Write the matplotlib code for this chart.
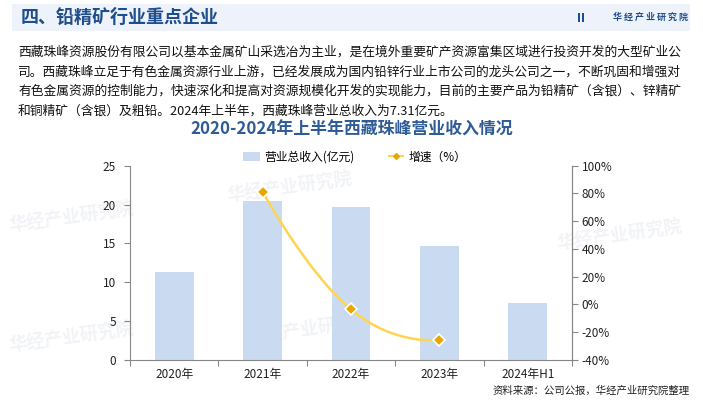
import numpy as np
import matplotlib.pyplot as plt
from matplotlib.patches import Rectangle, Patch
from matplotlib.lines import Line2D
from matplotlib.path import Path
from matplotlib.patches import PathPatch

plt.rcParams['font.family'] = ['Noto Sans CJK SC', 'DejaVu Sans']

# data
years = ['2020年', '2021年', '2022年', '2023年', '2024年H1']
revenue = [11.30, 20.47, 19.73, 14.72, 7.31]      # 亿元
growth_years = [1, 2, 3]                            # index into years
growth = [81.2, -3.6, -25.4]                        # %

para = [
    '西藏珠峰资源股份有限公司以基本金属矿山采选冶为主业，是在境外重要矿产资源富集区域进行投资开发的大型矿业公',
    '司。西藏珠峰立足于有色金属资源行业上游，已经发展成为国内铅锌行业上市公司的龙头公司之一，不断巩固和增强对',
    '有色金属资源的控制能力，快速深化和提高对资源规模化开发的实现能力，目前的主要产品为铅精矿（含银）、锌精矿',
    '和铜精矿（含银）及粗铅。2024年上半年，西藏珠峰营业总收入为7.31亿元。',
]

W, H = 703, 401
fig = plt.figure(figsize=(W / 100, H / 100), dpi=100)
fig.patch.set_facecolor('white')

def fx(px):
    return px / W

def fy(py):
    return 1 - py / H

# faint watermarks (behind everything)
for (x, y) in [(72, 218), (290, 188), (72, 338), (310, 330), (620, 236)]:
    fig.text(fx(x), fy(y), '华经产业研究院', fontsize=13, color='#F1F3F7', fontweight='bold',
             rotation=8, ha='center', va='center', zorder=-5)

# header band
fig.patches.append(Rectangle((fx(12), fy(31)), fx(678), 27 / H, transform=fig.transFigure,
                             facecolor='#EEF3FB', edgecolor='none', zorder=-4))
fig.text(fx(21), fy(17.5), '四、铅精矿行业重点企业', fontsize=13, fontweight='bold',
         color='#1F4E8C', ha='left', va='center')
fig.patches.append(Rectangle((fx(578), fy(22)), fx(2), 9 / H, transform=fig.transFigure,
                             facecolor='#1F4E8C', edgecolor='none'))
fig.patches.append(Rectangle((fx(581.5), fy(22)), fx(2), 9 / H, transform=fig.transFigure,
                             facecolor='#1F4E8C', edgecolor='none'))
fig.text(fx(688), fy(17.5), '华 经 产 业 研 究 院', fontsize=6.5, fontweight='bold',
         color='#1F4E8C', ha='right', va='center')

# paragraph
for i, line in enumerate(para):
    fig.text(fx(18), fy(52 + i * 19.7), line, fontsize=9.2, color='#111111',
             ha='left', va='center')

# chart title
fig.text(0.5, fy(130), '2020-2024年上半年西藏珠峰营业收入情况', fontsize=12.2,
         fontweight='bold', color='#2F5C97', ha='center', va='center')

ax = fig.add_axes([fx(130), fy(360), fx(442), (360 - 165.7) / H])
x = np.arange(len(years))
ax.bar(x, revenue, width=0.44, color='#C9DAF1', zorder=2)
ax.set_xlim(-0.5, len(years) - 0.5)
ax.set_ylim(0, 25)
ax.set_yticks(np.arange(0, 26, 5))
ax.set_xticks(np.arange(-0.5, len(years), 1))
ax.set_xticklabels([])
ax.set_xticks(x, minor=True)
ax.set_xticklabels(years, minor=True)
ax.tick_params(axis='x', which='major', length=4, color='#888888')
ax.tick_params(axis='x', which='minor', length=0, pad=6, labelsize=8.5, labelcolor='#222222')
ax.tick_params(axis='y', length=4, color='#888888', labelsize=8.5, labelcolor='#222222', pad=6)
ax.set_facecolor('none')
ax.spines['top'].set_visible(False)
for s in ['left', 'bottom', 'right']:
    ax.spines[s].set_color('#888888')

ax2 = ax.twinx()
ax2.set_ylim(-40, 100)
ax2.set_yticks(np.arange(-40, 101, 20))
ax2.set_yticklabels([f'{v}%' for v in range(-40, 101, 20)])
ax2.tick_params(axis='y', length=4, color='#888888', labelsize=8.5, labelcolor='#222222', pad=3)
ax2.spines['top'].set_visible(False)
ax2.spines['left'].set_visible(False)
ax2.spines['bottom'].set_visible(False)
ax2.spines['right'].set_color('#888888')

# smooth line (echarts-like) through growth points
gx = np.array(growth_years, dtype=float)
gy = np.array(growth, dtype=float)
pts = np.column_stack([gx, gy])
verts = [tuple(pts[0])]
codes = [Path.MOVETO]
sm = 0.5
for i in range(len(pts) - 1):
    p0 = pts[i]
    p1 = pts[i + 1]
    prev = pts[i - 1] if i > 0 else p0
    nxt = pts[i + 2] if i + 2 < len(pts) else p1
    c1 = p0 + (p1 - prev) * sm / 2 if i > 0 else p0
    c2 = p1 - (nxt - p0) * sm / 2 if i + 2 < len(pts) else p1
    verts += [tuple(c1), tuple(c2), tuple(p1)]
    codes += [Path.CURVE4] * 3
ax2.add_patch(PathPatch(Path(verts, codes), facecolor='none', edgecolor='#FFD451',
                        linewidth=1.8, zorder=3))
ax2.plot(gx, gy, linestyle='none', marker='D', markersize=6, markerfacecolor='#E8A600',
         markeredgecolor='white', markeredgewidth=1.2, zorder=4)

# legend
handles = [Patch(facecolor='#C9DAF1', edgecolor='none', label='营业总收入(亿元)'),
           Line2D([0], [0], color='#FFD451', linestyle='--', lw=1.5, marker='D', markersize=3,
                  markerfacecolor='#E8A600', markeredgecolor='#E8A600', label='增速（%）')]
fig.legend(handles=handles, loc='center', bbox_to_anchor=(0.505, fy(157)), ncol=2,
           frameon=False, fontsize=8.5, handlelength=1.4, handleheight=0.8,
           columnspacing=2.8, handletextpad=0.4)

fig.text(fx(690), fy(391), '资料来源：公司公报，华经产业研究院整理', fontsize=7.5,
         color='#222222', ha='right', va='center')

fig.savefig('out.png', dpi=100)
